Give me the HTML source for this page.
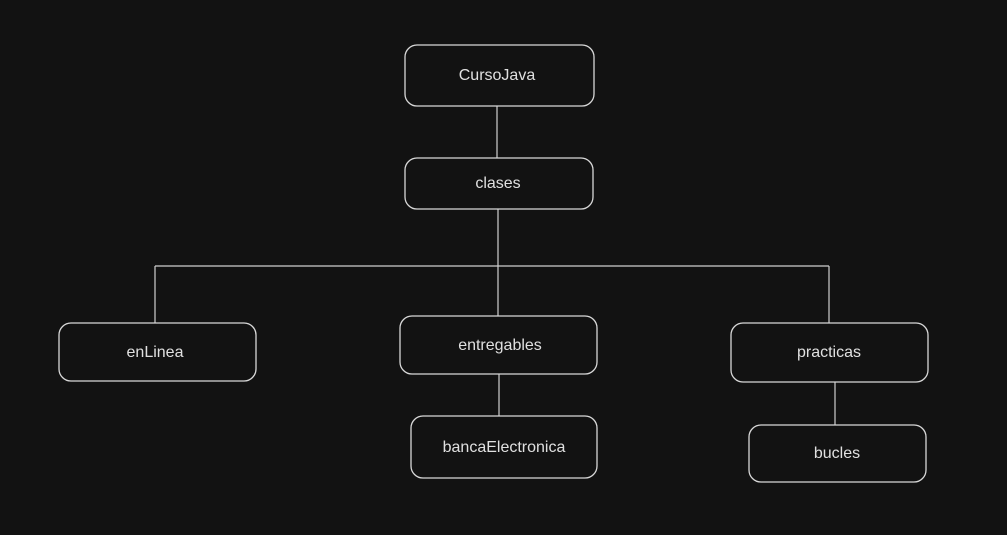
<!DOCTYPE html>
<html><head><style>
html,body{margin:0;padding:0;background:#121212;}
svg{display:block}
text{font-family:"Liberation Sans",sans-serif;font-size:16px;fill:#e0e0e0;text-anchor:middle;dominant-baseline:middle}
rect{fill:none;stroke:#d8d8d8;stroke-width:1.3}
line{stroke:#cfcfcf;stroke-width:1.2}
</style></head><body>
<svg width="1007" height="535" viewBox="0 0 1007 535">
<rect x="0" y="0" width="1007" height="535" style="fill:#121212;stroke:none"/>
<line x1="497" y1="106" x2="497" y2="158"/>
<line x1="498" y1="209" x2="498" y2="316"/>
<line x1="155" y1="266" x2="829" y2="266"/>
<line x1="155" y1="266" x2="155" y2="323"/>
<line x1="829" y1="266" x2="829" y2="323"/>
<line x1="499" y1="374" x2="499" y2="416"/>
<line x1="835" y1="382" x2="835" y2="425"/>
<rect x="405" y="45" width="189" height="61" rx="12"/>
<text x="497" y="76">CursoJava</text>
<rect x="405" y="158" width="188" height="51" rx="12"/>
<text x="498" y="184">clases</text>
<rect x="59" y="323" width="197" height="58" rx="12"/>
<text x="155" y="353">enLinea</text>
<rect x="400" y="316" width="197" height="58" rx="12"/>
<text x="500" y="346">entregables</text>
<rect x="731" y="323" width="197" height="59" rx="12"/>
<text x="829" y="353">practicas</text>
<rect x="411" y="416" width="186" height="62" rx="12"/>
<text x="504" y="448">bancaElectronica</text>
<rect x="749" y="425" width="177" height="57" rx="12"/>
<text x="837" y="454">bucles</text>
</svg>
</body></html>
